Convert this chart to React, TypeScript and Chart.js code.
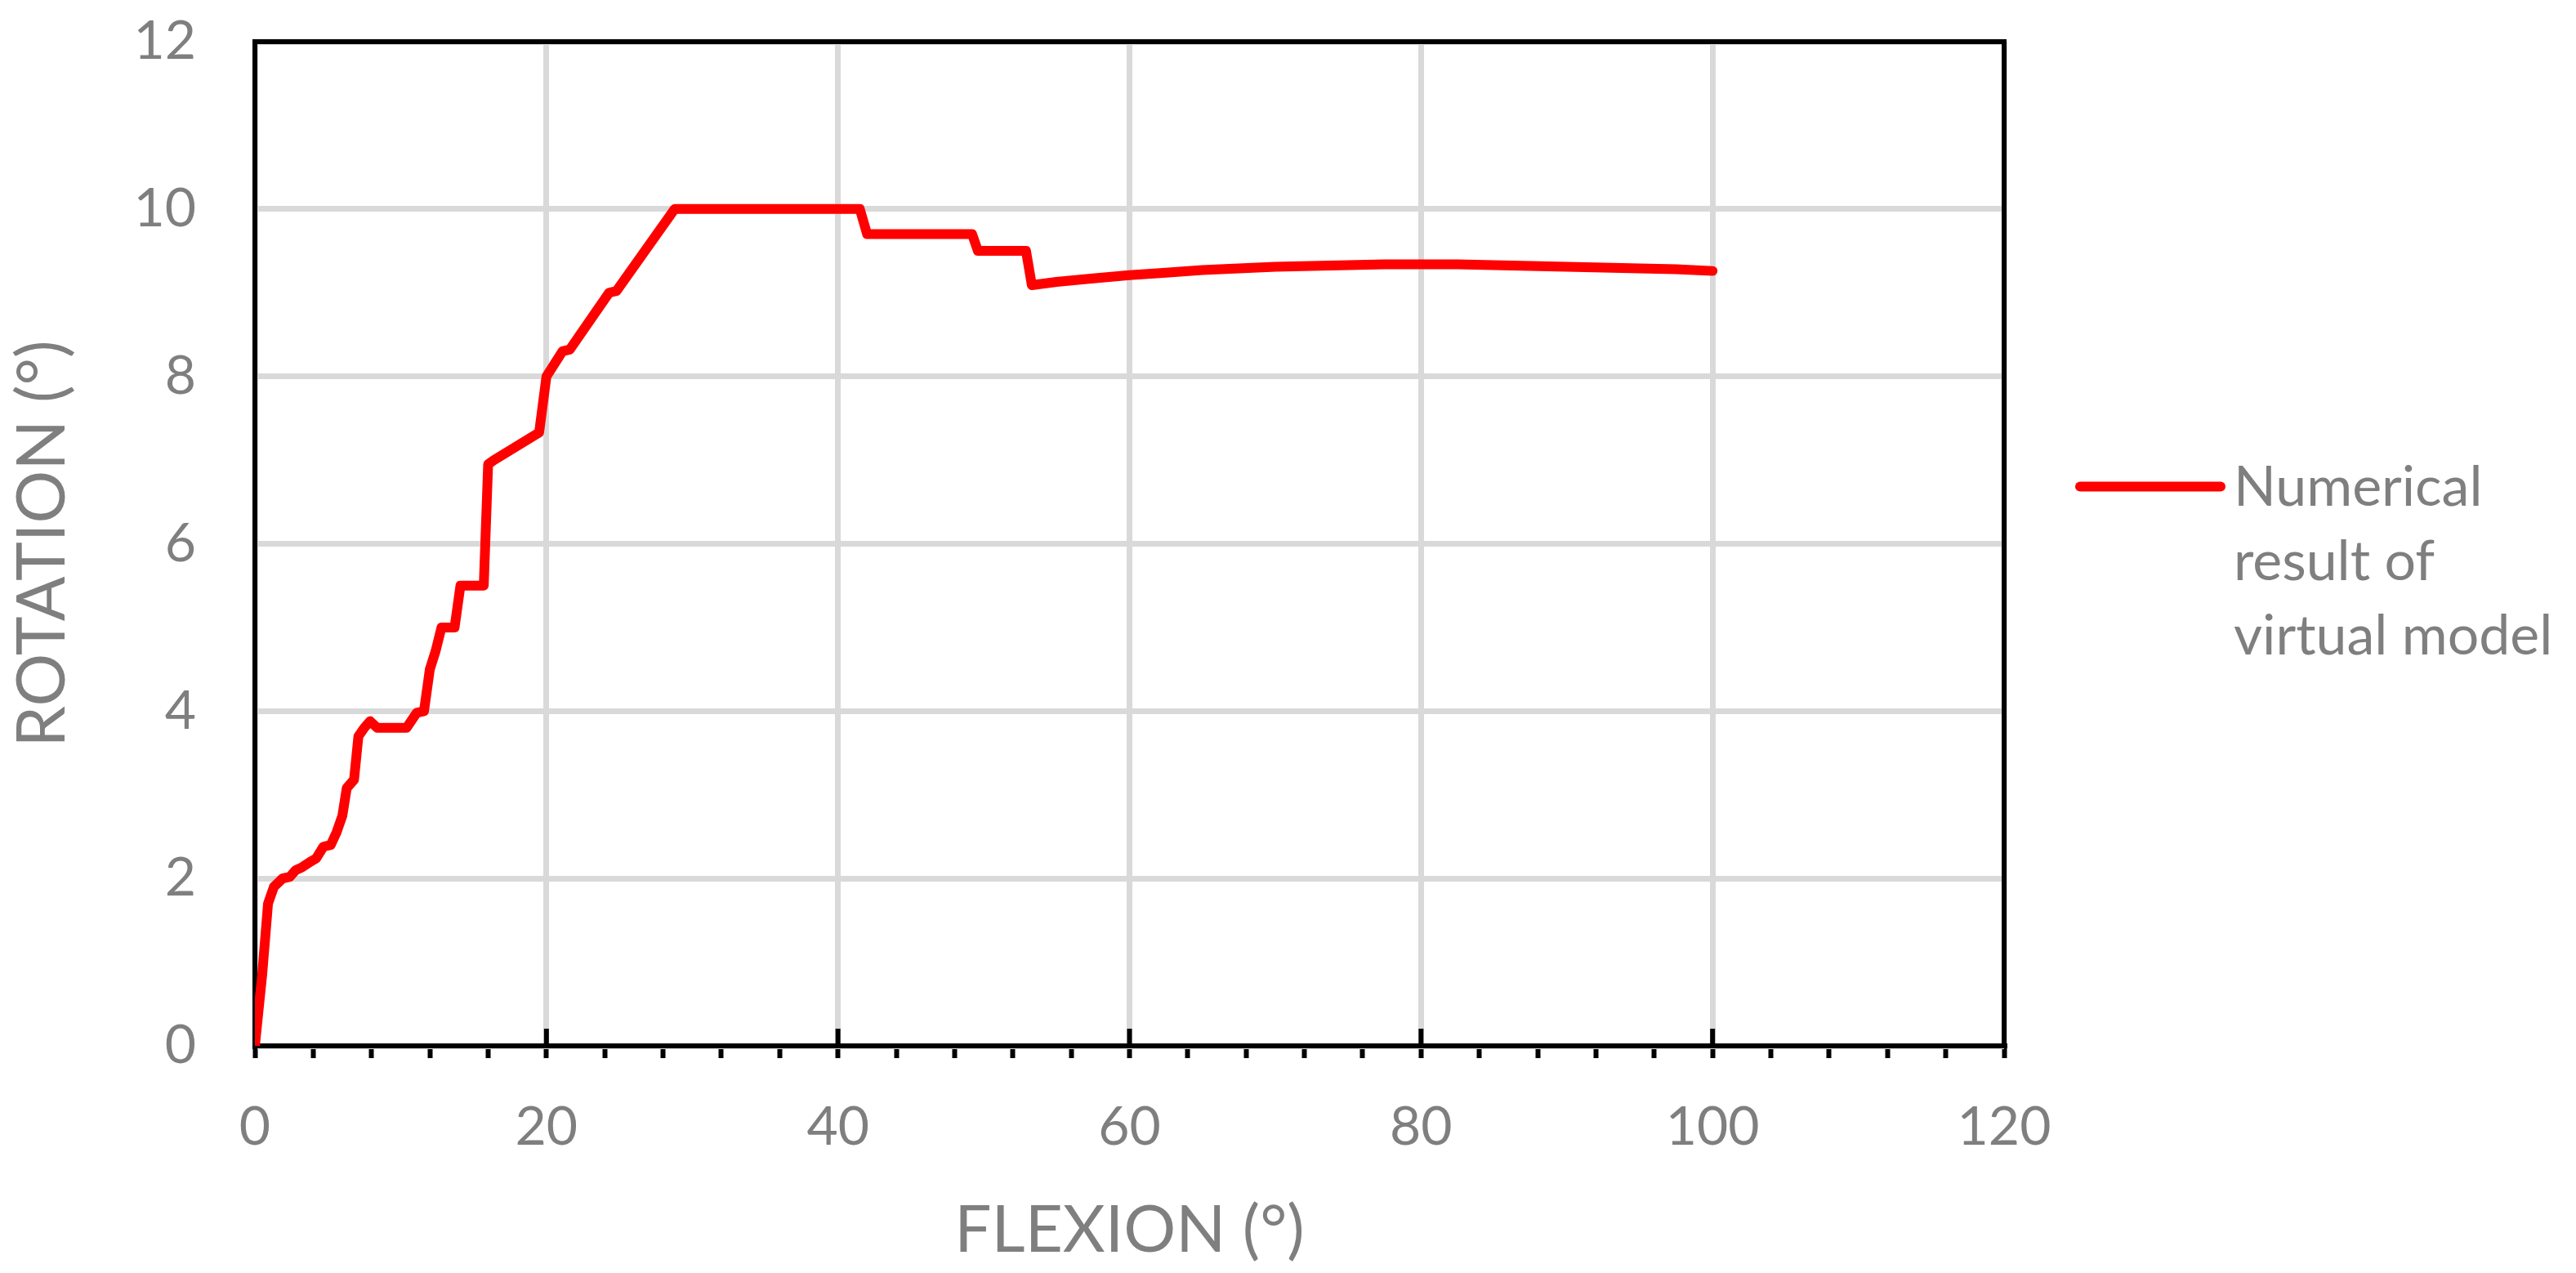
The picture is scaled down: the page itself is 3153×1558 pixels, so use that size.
import React, { useEffect, useRef } from 'react';
import { Chart, registerables } from 'chart.js';

Chart.register(...registerables);

// Data
const flexion = [
  0, 0.5, 0.9, 1.3, 1.9, 2.4, 2.8, 3.2, 3.8, 4.2, 4.7, 5.2, 5.6, 6.0, 6.3, 6.8,
  7.1, 7.5, 7.9, 8.4, 10.4, 11.1, 11.6, 12.0, 12.4, 12.8, 13.7, 14.1, 15.7, 16.0,
  16.4, 19.5, 20.0, 21.1, 21.6, 24.3, 24.8, 28.8, 41.5, 42.0, 49.2, 49.6, 52.9,
  53.3, 55, 57.5, 60, 62.5, 65, 67.5, 70, 72.5, 75, 77.5, 80, 82.5, 85, 87.5, 90,
  92.5, 95, 97.5, 100,
];
const rotation = [
  0, 0.85, 1.7, 1.9, 2.0, 2.02, 2.1, 2.13, 2.2, 2.24, 2.38, 2.4, 2.55, 2.75, 3.08,
  3.18, 3.7, 3.8, 3.88, 3.8, 3.8, 3.98, 4.0, 4.5, 4.72, 5.0, 5.0, 5.5, 5.5, 6.95,
  7.0, 7.33, 8.0, 8.3, 8.32, 9.0, 9.02, 10.0, 10.0, 9.7, 9.7, 9.5, 9.5,
  9.09, 9.13, 9.17, 9.21, 9.24, 9.27, 9.29, 9.31, 9.32, 9.33, 9.34, 9.34, 9.34,
  9.33, 9.32, 9.31, 9.30, 9.29, 9.28, 9.26,
];
const xTickValues = [0, 20, 40, 60, 80, 100, 120];
const yTickValues = [0, 2, 4, 6, 8, 10, 12];
const seriesLabel = ['Numerical', 'result of', 'virtual model'];
const xTitle = 'FLEXION (°)';
const yTitle = 'ROTATION (°)';

const FONT = 'Lato, "Open Sans", sans-serif';
const GRAY = '#7f7f7f';
const GRID = '#d9d9d9';
const RED = '#ff0000';

export default function App() {
  const ref = useRef<HTMLCanvasElement>(null);

  useEffect(() => {
    const canvas = ref.current;
    if (!canvas) return;

    const framePlugin = {
      id: 'frame',
      beforeDatasetsDraw(chart: any) {
        const { ctx, chartArea: a, scales } = chart;
        ctx.save();
        ctx.strokeStyle = '#000';
        ctx.lineWidth = 6;
        ctx.strokeRect(a.left, a.top, a.right - a.left, a.bottom - a.top);
        const xs = scales.x;
        xs.ticks.forEach((t: any) => {
          if (xTickValues.includes(t.value)) {
            const px = xs.getPixelForValue(t.value);
            ctx.beginPath();
            ctx.moveTo(px, a.bottom);
            ctx.lineTo(px, a.bottom - 21);
            ctx.stroke();
          }
        });
        ctx.restore();
      },
    };

    const textPlugin = {
      id: 'sideText',
      afterDraw(chart: any) {
        const { ctx, chartArea: a } = chart;
        const mid = (a.top + a.bottom) / 2;
        // y axis title
        ctx.save();
        ctx.fillStyle = GRAY;
        ctx.font = `81px ${FONT}`;
        ctx.textAlign = 'center';
        ctx.textBaseline = 'alphabetic';
        ctx.translate(a.left - 233, mid);
        ctx.rotate(-Math.PI / 2);
        ctx.fillText(yTitle, 0, 0);
        ctx.restore();
        // legend
        const x0 = a.right + 93;
        ctx.save();
        ctx.strokeStyle = RED;
        ctx.lineWidth = 12;
        ctx.lineCap = 'round';
        ctx.beginPath();
        ctx.moveTo(x0, mid - 70);
        ctx.lineTo(x0 + 172, mid - 70);
        ctx.stroke();
        ctx.fillStyle = GRAY;
        ctx.font = `68px ${FONT}`;
        ctx.textBaseline = 'alphabetic';
        ctx.textAlign = 'left';
        seriesLabel.forEach((s, i) => ctx.fillText(s, x0 + 188, mid - 47 + i * 91));
        ctx.restore();
      },
    };

    const chart = new Chart(canvas, {
      type: 'line',
      data: {
        datasets: [
          {
            label: seriesLabel.join(' '),
            data: flexion.map((x, i) => ({ x, y: rotation[i] })),
            borderColor: RED,
            backgroundColor: RED,
            borderWidth: 12,
            pointRadius: 0,
            tension: 0,
            borderJoinStyle: 'round',
            borderCapStyle: 'round',
            fill: false,
          },
        ],
      },
      options: {
        responsive: false,
        animation: false,
        devicePixelRatio: 1,
        layout: { padding: { left: 0, top: 51, right: 700, bottom: 0 } },
        plugins: { legend: { display: false }, tooltip: { enabled: false } },
        scales: {
          x: {
            type: 'linear',
            min: 0,
            max: 120,
            afterFit: (s: any) => {
              s.height = 278;
            },
            ticks: {
              stepSize: 4,
              autoSkip: false,
              maxRotation: 0,
              minRotation: 0,
              padding: 45,
              color: GRAY,
              font: { family: FONT, size: 66 },
              callback: (v: any) => (xTickValues.includes(Number(v)) ? String(v) : ''),
            },
            grid: {
              color: (c: any) => (c.tick && xTickValues.includes(c.tick.value) ? GRID : 'rgba(0,0,0,0)'),
              lineWidth: 7,
              drawTicks: true,
              tickColor: '#000',
              tickWidth: 6,
              tickLength: 15,
            },
            border: { color: '#000', width: 6 },
            title: {
              display: true,
              text: xTitle,
              color: GRAY,
              font: { family: FONT, size: 80 },
              padding: { top: 0, bottom: 4 },
            },
          },
          y: {
            type: 'linear',
            min: 0,
            max: 12,
            afterFit: (s: any) => {
              s.width = 312;
            },
            ticks: {
              stepSize: 2,
              padding: 6,
              color: GRAY,
              font: { family: FONT, size: 66 },
              callback: (v: any) => (yTickValues.includes(Number(v)) ? String(v) : ''),
            },
            grid: {
              color: GRID,
              lineWidth: 7,
              drawTicks: true,
              tickLength: 66,
              tickColor: 'rgba(0,0,0,0)',
            },
            border: { color: '#000', width: 6 },
            title: { display: false, text: yTitle },
          },
        },
      },
      plugins: [framePlugin, textPlugin],
    } as any);

    return () => chart.destroy();
  }, []);

  return (
    <div style={{ position: 'absolute', left: 0, top: 0, width: 3153, height: 1558, background: '#fff' }}>
      <canvas ref={ref} width={3153} height={1558} style={{ display: 'block', width: 3153, height: 1558 }} />
    </div>
  );
}
